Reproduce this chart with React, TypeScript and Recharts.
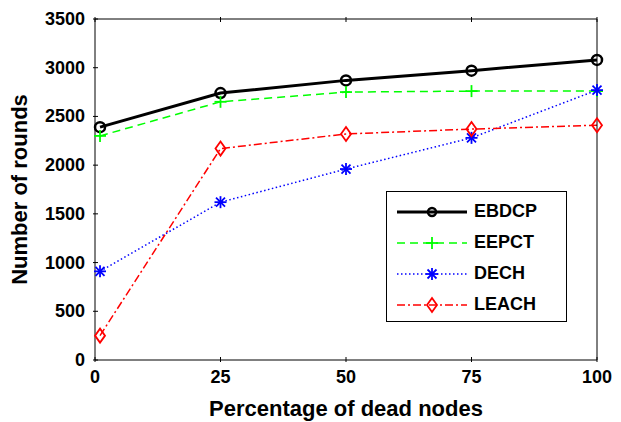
import { Line, LineChart, XAxis, YAxis } from "recharts";

const deadNodes = [1, 25, 50, 75, 100];
const ebdcp = [2390, 2740, 2870, 2970, 3080];
const eepct = [2300, 2650, 2750, 2760, 2760];
const dech = [910, 1620, 1960, 2280, 2770];
const leach = [250, 2170, 2320, 2370, 2410];

const xTicks = [0, 25, 50, 75, 100];
const yTicks = [0, 500, 1000, 1500, 2000, 2500, 3000, 3500];

const data = deadNodes.map((x, i) => ({
  x,
  EBDCP: ebdcp[i],
  EEPCT: eepct[i],
  DECH: dech[i],
  LEACH: leach[i],
}));

const font = "'Liberation Sans', Arial, sans-serif";

const series = [
  { key: "EBDCP", color: "#000000", width: 3, dash: undefined, marker: "circle" },
  { key: "EEPCT", color: "#00ff00", width: 1.5, dash: "8 5", marker: "plus" },
  { key: "DECH", color: "#0000ff", width: 1.5, dash: "1.5 2.5", marker: "star" },
  { key: "LEACH", color: "#ff0000", width: 1.5, dash: "8 3 2 3", marker: "diamond" },
];

function Marker({ cx, cy, type, color, small }: any) {
  if (cx == null || cy == null) return null;
  if (type === "circle")
    return <circle cx={cx} cy={cy} r={small ? 4 : 5} fill="none" stroke={color} strokeWidth={2.5} />;
  if (type === "plus")
    return (
      <g stroke={color} strokeWidth={1.8}>
        <line x1={cx - 6} y1={cy} x2={cx + 6} y2={cy} />
        <line x1={cx} y1={cy - 6} x2={cx} y2={cy + 6} />
      </g>
    );
  if (type === "star")
    return (
      <g stroke={color} strokeWidth={1.8}>
        <line x1={cx - 6} y1={cy} x2={cx + 6} y2={cy} />
        <line x1={cx} y1={cy - 6} x2={cx} y2={cy + 6} />
        <line x1={cx - 4.5} y1={cy - 4.5} x2={cx + 4.5} y2={cy + 4.5} />
        <line x1={cx - 4.5} y1={cy + 4.5} x2={cx + 4.5} y2={cy - 4.5} />
      </g>
    );
  return (
    <path
      d={`M${cx},${cy - 7}L${cx + 5},${cy}L${cx},${cy + 7}L${cx - 5},${cy}Z`}
      fill="none"
      stroke={color}
      strokeWidth={1.8}
    />
  );
}

function BottomTick({ x, y, payload }: any) {
  return (
    <g>
      <line x1={x} y1={y} x2={x} y2={y - 5} stroke="#000" />
      <text x={x} y={y + 21} textAnchor="middle" fontFamily={font} fontWeight="bold" fontSize={18} fill="#000">
        {payload.value}
      </text>
    </g>
  );
}

function TopTick({ x, y }: any) {
  return <line x1={x} y1={y} x2={x} y2={y + 5} stroke="#000" />;
}

function LeftTick({ x, y, payload }: any) {
  return (
    <g>
      <line x1={x} y1={y} x2={x + 5} y2={y} stroke="#000" />
      <text x={x - 8} y={y + 6} textAnchor="end" fontFamily={font} fontWeight="bold" fontSize={18} fill="#000">
        {payload.value}
      </text>
    </g>
  );
}

function RightTick({ x, y }: any) {
  return <line x1={x} y1={y} x2={x - 5} y2={y} stroke="#000" />;
}

function LegendBox() {
  return (
    <div
      style={{
        position: "absolute",
        left: 386,
        top: 191,
        width: 181,
        height: 131,
        border: "1px solid #000",
        background: "#fff",
        boxSizing: "border-box",
        paddingTop: 4,
      }}
    >
      {series.map((s) => (
        <div key={s.key} style={{ display: "flex", alignItems: "center", height: 31 }}>
          <svg width={80} height={20} style={{ marginLeft: 10, flex: "none" }}>
            <line x1={0} y1={10} x2={70} y2={10} stroke={s.color} strokeWidth={s.width} strokeDasharray={s.dash} />
            <Marker cx={35} cy={10} type={s.marker} color={s.color} small />
          </svg>
          <span style={{ fontFamily: font, fontWeight: "bold", fontSize: 18, color: "#000", marginLeft: -3 }}>{s.key}</span>
        </div>
      ))}
    </div>
  );
}

export default function App() {
  return (
    <div style={{ position: "absolute", left: 0, top: 0, width: 621, height: 422, background: "#fff" }}>
      <LineChart width={621} height={422} data={data} margin={{ top: 18, right: 23, left: 0, bottom: 0 }}>
        <XAxis
          dataKey="x"
          type="number"
          domain={[0, 100]}
          ticks={xTicks}
          tick={<BottomTick />}
          tickLine={false}
          tickSize={0}
          axisLine={{ stroke: "#000" }}
          height={62}
          label={{
            value: "Percentage of dead nodes",
            position: "insideBottom",
            offset: 6,
            style: { fontFamily: font, fontWeight: "bold", fontSize: 22, fill: "#000" },
          }}
        />
        <XAxis
          xAxisId="top"
          dataKey="x"
          type="number"
          orientation="top"
          domain={[0, 100]}
          ticks={xTicks}
          tick={<TopTick />}
          tickLine={false}
          tickSize={0}
          axisLine={{ stroke: "#000" }}
          height={1}
        />
        <YAxis
          type="number"
          domain={[0, 3500]}
          ticks={yTicks}
          tick={<LeftTick />}
          tickLine={false}
          tickSize={0}
          axisLine={{ stroke: "#000" }}
          width={95}
          label={{
            value: "Number of rounds",
            angle: -90,
            position: "insideLeft",
            offset: 19,
            style: { textAnchor: "middle", fontFamily: font, fontWeight: "bold", fontSize: 22, fill: "#000" },
          }}
        />
        <YAxis
          yAxisId="right"
          orientation="right"
          type="number"
          domain={[0, 3500]}
          ticks={yTicks}
          tick={<RightTick />}
          tickLine={false}
          tickSize={0}
          axisLine={{ stroke: "#000" }}
          width={1}
        />
        {series.map((s) => (
          <Line
            key={s.key}
            dataKey={s.key}
            stroke={s.color}
            strokeWidth={s.width}
            strokeDasharray={s.dash}
            dot={(p: any) => <Marker key={`${s.key}-${p.index}`} cx={p.cx} cy={p.cy} type={s.marker} color={s.color} />}
            activeDot={false}
            isAnimationActive={false}
          />
        ))}
      </LineChart>
      <LegendBox />
    </div>
  );
}
